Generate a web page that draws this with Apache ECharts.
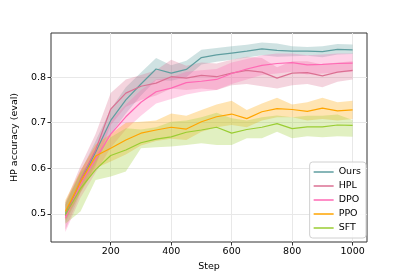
<!DOCTYPE html>
<html>
<head>
<meta charset="utf-8">
<script src="https://cdn.jsdelivr.net/npm/echarts@6/dist/echarts.min.js"></script>
<style>html,body{margin:0;padding:0;background:#fff}#c{width:409px;height:273px}</style>
</head>
<body>
<div id="c"></div>
<script>
const steps = [50,100,150,200,250,300,350,400,450,500,550,600,650,700,750,800,850,900,950,1000];
const xTicks = [200,400,600,800,1000];
const yTicks = [0.5,0.6,0.7,0.8];

const oursMean = [0.500,0.570,0.635,0.705,0.750,0.785,0.818,0.809,0.817,0.843,0.849,0.853,0.857,0.862,0.859,0.857,0.857,0.856,0.861,0.860];
const oursLo   = [0.480,0.548,0.610,0.675,0.720,0.760,0.794,0.792,0.800,0.828,0.834,0.838,0.843,0.848,0.845,0.846,0.847,0.844,0.850,0.851];
const oursHi   = [0.525,0.592,0.660,0.730,0.778,0.810,0.842,0.826,0.836,0.860,0.864,0.868,0.871,0.876,0.874,0.868,0.866,0.868,0.873,0.872];

const hplMean = [0.495,0.575,0.640,0.730,0.765,0.780,0.787,0.801,0.798,0.804,0.801,0.809,0.815,0.811,0.798,0.809,0.810,0.803,0.811,0.815];
const hplLo   = [0.465,0.545,0.605,0.695,0.735,0.750,0.760,0.775,0.772,0.775,0.772,0.782,0.785,0.780,0.775,0.782,0.785,0.778,0.790,0.795];
const hplHi   = [0.525,0.605,0.675,0.765,0.795,0.805,0.815,0.838,0.825,0.832,0.830,0.838,0.845,0.842,0.822,0.835,0.835,0.828,0.832,0.835];

const dpoMean = [0.490,0.565,0.620,0.675,0.713,0.745,0.768,0.776,0.788,0.791,0.795,0.808,0.818,0.826,0.830,0.832,0.827,0.828,0.830,0.831];
const dpoLo   = [0.460,0.535,0.590,0.645,0.685,0.715,0.742,0.752,0.762,0.768,0.772,0.785,0.795,0.805,0.808,0.812,0.806,0.808,0.810,0.812];
const dpoHi   = [0.520,0.595,0.650,0.705,0.740,0.772,0.795,0.800,0.812,0.815,0.818,0.832,0.840,0.848,0.852,0.852,0.848,0.850,0.852,0.852];

const ppoMean = [0.505,0.570,0.627,0.644,0.662,0.677,0.684,0.690,0.686,0.702,0.713,0.719,0.709,0.724,0.731,0.729,0.725,0.732,0.726,0.728];
const ppoLo   = [0.485,0.548,0.600,0.615,0.630,0.650,0.660,0.665,0.662,0.680,0.690,0.695,0.690,0.705,0.712,0.712,0.705,0.708,0.705,0.708];
const ppoHi   = [0.530,0.595,0.652,0.675,0.700,0.702,0.705,0.720,0.715,0.728,0.740,0.748,0.728,0.742,0.755,0.740,0.745,0.755,0.745,0.748];

const sftMean = [0.498,0.555,0.597,0.628,0.640,0.656,0.664,0.669,0.679,0.684,0.690,0.677,0.685,0.690,0.698,0.687,0.691,0.691,0.695,0.694];
const sftLo   = [0.478,0.505,0.574,0.582,0.593,0.644,0.646,0.648,0.651,0.655,0.651,0.651,0.666,0.666,0.680,0.666,0.670,0.668,0.670,0.669];
const sftHi   = [0.520,0.590,0.625,0.668,0.688,0.685,0.690,0.702,0.705,0.712,0.722,0.710,0.705,0.712,0.716,0.712,0.715,0.715,0.718,0.706];

const methods = [
  {name:'Ours', color:'#5f9ea0', mean:oursMean, lo:oursLo, hi:oursHi},
  {name:'HPL',  color:'#db7093', mean:hplMean,  lo:hplLo,  hi:hplHi},
  {name:'DPO',  color:'#ff69b4', mean:dpoMean,  lo:dpoLo,  hi:dpoHi},
  {name:'PPO',  color:'#ffa500', mean:ppoMean,  lo:ppoLo,  hi:ppoHi},
  {name:'SFT',  color:'#9acd32', mean:sftMean,  lo:sftLo,  hi:sftHi}
];

function hexA(h,a){const r=parseInt(h.slice(1,3),16),g=parseInt(h.slice(3,5),16),b=parseInt(h.slice(5,7),16);return `rgba(${r},${g},${b},${a})`;}

const series = [];
methods.forEach(m => {
  series.push({
    name: m.name + '_band', type:'custom', coordinateSystem:'cartesian2d', silent:true, z:1,
    data: steps.map((s,i)=>[s, m.lo[i], m.hi[i]]),
    encode:{x:0, y:[1,2]},
    renderItem: function(params, api){
      if (params.dataIndex !== 0) return null;
      const upper = steps.map((s,i)=>api.coord([s, m.hi[i]]));
      const lower = steps.map((s,i)=>api.coord([s, m.lo[i]])).reverse();
      return {type:'polygon', shape:{points: upper.concat(lower)}, style:{fill: hexA(m.color,0.3), stroke:null}};
    }
  });
});
methods.forEach(m => {
  series.push({
    name: m.name, type:'line', symbol:'none', showSymbol:false,
    data: steps.map((s,i)=>[s, m.mean[i]]),
    lineStyle:{color:m.color, width:1.2}, itemStyle:{color:m.color}, z:3
  });
});

const font = 'DejaVu Sans';
const chart = echarts.init(document.getElementById('c'), null, {renderer:'canvas'});
chart.setOption({
  animation:false,
  backgroundColor:'#fff',
  grid:{left:51, right:42, top:33, bottom:31, show:true, borderColor:'#333', borderWidth:1, backgroundColor:'transparent', outerBoundsMode:'none', containLabel:false},
  xAxis:{
    type:'value', min:2.5, max:1047.5,
    name:'Step', nameLocation:'middle', nameGap:20,
    nameTextStyle:{fontFamily:font, fontSize:9.5, color:'#000'},
    axisLine:{show:false},
    axisTick:{show:true, length:3.5, lineStyle:{color:'#333'}, customValues:xTicks},
    axisLabel:{fontFamily:font, fontSize:9.5, color:'#000', margin:5, customValues:xTicks, formatter:v=>String(v)},
    splitLine:{show:true, lineStyle:{color:'#e8e8e8', width:1}}
  },
  yAxis:{
    type:'value', min:0.438, max:0.897,
    name:'HP accuracy (eval)', nameLocation:'middle', nameGap:26,
    nameTextStyle:{fontFamily:font, fontSize:9.5, color:'#000'},
    axisLine:{show:false},
    axisTick:{show:true, length:3.5, lineStyle:{color:'#333'}, customValues:yTicks},
    axisLabel:{fontFamily:font, fontSize:9.5, color:'#000', margin:5, customValues:yTicks, formatter:v=>v.toFixed(1)},
    splitLine:{show:true, lineStyle:{color:'#e8e8e8', width:1}}
  },
  legend:{
    data: methods.map(m=>m.name), orient:'vertical', right:43, bottom:35,
    icon:'rect', itemWidth:20, itemHeight:1.5, itemGap:2,
    textStyle:{fontFamily:font, fontSize:9.5, color:'#000', lineHeight:12},
    backgroundColor:'rgba(255,255,255,0.85)', borderColor:'#d0d0d0', borderWidth:1, borderRadius:3,
    padding:[4,5,4,4]
  },
  series: series
});
</script>
</body>
</html>
